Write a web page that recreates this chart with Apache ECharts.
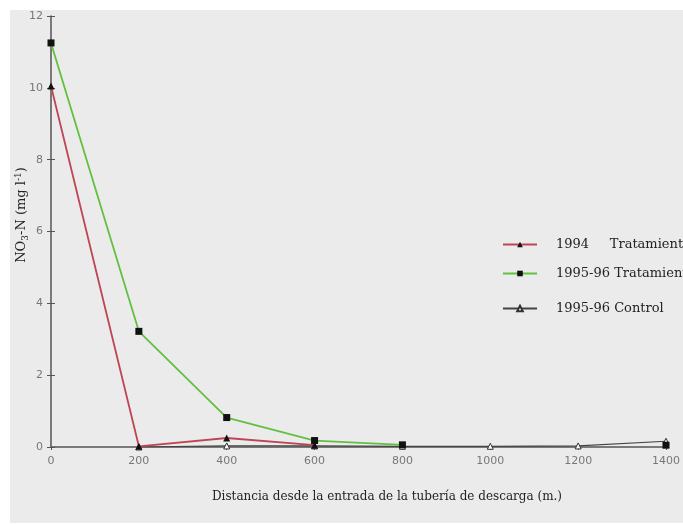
<!DOCTYPE html>
<html>
<head>
<meta charset="utf-8">
<script src="https://cdn.jsdelivr.net/npm/echarts@6/dist/echarts.min.js"></script>
<style>
  html, body { margin: 0; padding: 0; background: #ffffff; }
  #chart { width: 683px; height: 525px; }
</style>
</head>
<body>
<div id="chart"></div>
<script>
// Distance from the discharge pipe inlet (m)
const distances = [0, 200, 400, 600, 800, 1000, 1200, 1400];
// NO3-N concentrations (mg l-1)
const treat1994 = [10.05, 0.02, 0.25, 0.05, null, null, null, null];
const treat9596 = [11.25, 3.22, 0.82, 0.18, 0.06, null, null, 0.05];
const control9596 = [null, 0.0, 0.03, 0.03, 0.02, 0.02, 0.03, 0.16];
const seriesNames = ['1994     Tratamiento', '1995-96 Tratamiento', '1995-96 Control'];
const xTicks = [0, 1400, 200];
const yTicks = [0, 12, 2];

const pairs = arr => distances.map((d, i) => [d, arr[i]]);

const chart = echarts.init(document.getElementById('chart'));
const serif = '"DejaVu Serif", "Liberation Serif", serif';

const legendBase = {
  orient: 'vertical', left: 497, itemWidth: 34, itemHeight: 7,
  textStyle: { fontFamily: serif, fontSize: 13, color: '#222', padding: [0, 0, 0, 14] }
};

chart.setOption({
  animation: false,
  backgroundColor: '#ffffff',
  graphic: [
    { type: 'rect', shape: { x: 10, y: 10, width: 673, height: 513 }, style: { fill: '#ebebeb' }, z: -10 },
    { type: 'text', x: 387, y: 497, style: { text: 'Distancia desde la entrada de la tubería de descarga (m.)', font: '12px "DejaVu Serif", serif', fill: '#222', textAlign: 'center', textVerticalAlign: 'middle' } },
    { type: 'text', x: 22, y: 215, rotation: Math.PI / 2,
      style: {
        text: '{n|NO}{s|3}{n|-N (mg l}{p|-1}{n|)}',
        rich: {
          n: { fontFamily: serif, fontSize: 13, fill: '#222' },
          s: { fontFamily: serif, fontSize: 9, fill: '#222', padding: [7, 0, 0, 0] },
          p: { fontFamily: serif, fontSize: 9, fill: '#222', padding: [0, 0, 7, 0] }
        },
        textAlign: 'center', textVerticalAlign: 'middle'
      } }
  ],
  grid: { left: 51, right: 9, top: 16, bottom: 78, containLabel: false },
  legend: [
    Object.assign({}, legendBase, { top: 233, data: [{ name: seriesNames[0] }] }),
    Object.assign({}, legendBase, { top: 262, data: [{ name: seriesNames[1] }] }),
    Object.assign({}, legendBase, { top: 297, data: [{ name: seriesNames[2] }] })
  ],
  xAxis: {
    type: 'value', min: xTicks[0], max: xTicks[1], interval: xTicks[2],
    splitLine: { show: false },
    axisLine: { lineStyle: { color: '#555', width: 1.5 } },
    axisTick: { show: true, length: 3, lineStyle: { color: '#555' } },
    axisLabel: { color: '#777', fontSize: 11, margin: 9, fontFamily: '"DejaVu Sans", sans-serif', formatter: v => String(v) }
  },
  yAxis: [{
    type: 'value', min: yTicks[0], max: yTicks[1], interval: yTicks[2],
    splitLine: { show: false },
    axisLine: { show: true, lineStyle: { color: '#555', width: 1.5 } },
    axisTick: { show: true, length: 4, lineStyle: { color: '#555' } },
    axisLabel: { color: '#777', fontSize: 11, margin: 8, fontFamily: '"DejaVu Sans", sans-serif' }
  }, {
    type: 'value', min: yTicks[0], max: yTicks[1], interval: yTicks[2], position: 'left',
    splitLine: { show: false },
    axisLine: { show: false },
    axisTick: { show: true, inside: true, length: 4, lineStyle: { color: '#555' } },
    axisLabel: { show: false }
  }],
  series: [
    {
      name: seriesNames[0], type: 'line', data: pairs(treat1994),
      symbol: 'triangle', symbolSize: 7,
      itemStyle: { color: '#111' },
      lineStyle: { color: '#bf4555', width: 1.8 }, z: 3
    },
    {
      name: seriesNames[1], type: 'line', data: pairs(treat9596),
      symbol: 'rect', symbolSize: 7,
      itemStyle: { color: '#111' },
      lineStyle: { color: '#62c040', width: 1.8 }, z: 4
    },
    {
      name: seriesNames[2], type: 'line', data: pairs(control9596),
      symbol: 'triangle', symbolSize: 6,
      itemStyle: { color: '#ffffff', borderColor: '#333', borderWidth: 1 },
      lineStyle: { color: '#444', width: 1.2 }, z: 2
    }
  ]
});
</script>
</body>
</html>
